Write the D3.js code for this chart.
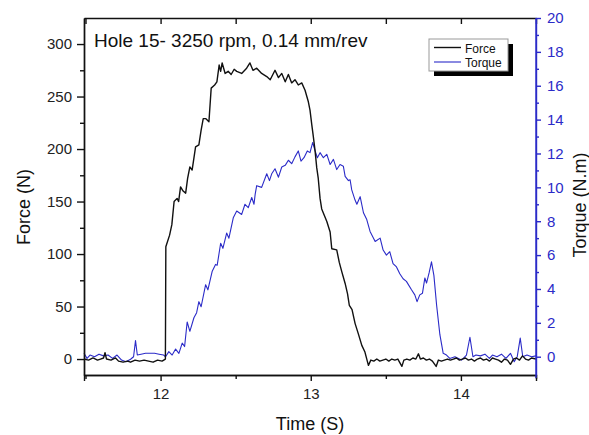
<!DOCTYPE html>
<html>
<head>
<meta charset="utf-8">
<script src="https://cdn.jsdelivr.net/npm/d3@7"></script>
<style>
    body { margin: 0; background: #fff; }
    text { font-family: "Liberation Sans", Arial, sans-serif; }
    .axis path, .axis line { stroke: #111; stroke-width: 1.4; }
    .axis text { font-size: 15px; fill: #222; }
    .t-axis path, .t-axis line { stroke: #2b2bc8; }
    .t-axis text { fill: #2b2bc8; }
</style>
</head>
<body>
<div id="chart"></div>
<script>
// data
let forceTime = [11.49, 11.52, 11.55, 11.58, 11.60, 11.62, 11.63, 11.64, 11.67, 11.70, 11.72, 11.75, 11.78, 11.80, 11.83, 11.86, 11.89, 11.92, 11.95, 11.98, 12.01, 12.032,
    12.035, 12.06, 12.075, 12.09, 12.11, 12.12, 12.133, 12.15, 12.167, 12.18, 12.195, 12.21, 12.233, 12.255, 12.27, 12.284, 12.30, 12.322, 12.337, 12.36, 12.375, 12.39, 12.40, 12.41,
    12.43, 12.45, 12.47, 12.49, 12.507, 12.54, 12.573, 12.595, 12.615, 12.64, 12.673, 12.707, 12.73, 12.762, 12.785, 12.807, 12.83, 12.851, 12.873, 12.895, 12.917, 12.94,
    12.962, 12.984, 12.995, 13.007, 13.017, 13.029, 13.04, 13.05, 13.062, 13.073, 13.09, 13.107, 13.129, 13.14, 13.173, 13.19, 13.207, 13.229, 13.245, 13.257, 13.275, 13.295,
    13.317, 13.34, 13.36, 13.384, 13.40, 13.42, 13.44, 13.46, 13.48, 13.50, 13.52, 13.54, 13.56, 13.58, 13.607, 13.62, 13.64, 13.66, 13.68, 13.70, 13.717, 13.73, 13.75, 13.77,
    13.79, 13.81, 13.835, 13.85, 13.87, 13.89, 13.91, 13.93, 13.95, 13.97, 13.99, 14.01, 14.03, 14.05, 14.07, 14.09, 14.11, 14.13, 14.15, 14.17, 14.19, 14.21, 14.23, 14.25,
    14.27, 14.29, 14.31, 14.33, 14.35, 14.37, 14.39, 14.41, 14.43, 14.45, 14.47, 14.50];
let forceVal = [0, -1, 1, -1, 0, 1, 6, 0, -1, 1, -2, -3, -2, -3, -1, -2, -1, -2, -3, -1, -2, 0,
    107, 118, 128, 150, 153, 150, 164, 160, 158, 172, 183, 180, 202, 204, 218, 229, 229, 226, 258, 261, 264, 280, 274, 282,
    272, 274, 271, 276, 274, 272, 277, 282, 275, 277, 272, 269, 266, 275, 268, 272, 264, 271, 263, 266, 261, 263,
    256, 245, 237, 223, 212, 198, 182, 172, 153, 143, 137, 131, 121, 105, 104, 92, 83, 72, 62, 51, 47, 34,
    24, 13, 7, -6, -1, -2, 0, -2, -1, 0, -2, 0, -1, 0, -7, -1, 0, -1, 1, 0, 5, 0, 1, -1,
    0, -2, -7, -1, -2, -1, 0, -1, 0, 1, -1, 0, 1, -1, 0, -2, 0, 1, -1, 0, -2, 1, 0, -1,
    -3, 0, -1, -5, 0, 1, -1, 3, 0, -1, 1, 0];

let torqueTime = [11.49, 11.51, 11.53, 11.56, 11.59, 11.62, 11.65, 11.68, 11.71, 11.74, 11.77, 11.80, 11.82, 11.833, 11.845, 11.87, 11.90, 11.93, 11.96, 11.99, 12.02,
    12.033, 12.055, 12.077, 12.10, 12.122, 12.144, 12.16, 12.177, 12.195, 12.222, 12.24, 12.255, 12.27, 12.30, 12.315, 12.344, 12.366, 12.377, 12.40, 12.415, 12.44, 12.455,
    12.484, 12.507, 12.54, 12.562, 12.584, 12.607, 12.622, 12.63, 12.64, 12.673, 12.707, 12.725, 12.74, 12.762, 12.785, 12.807, 12.83, 12.851, 12.873, 12.895, 12.917,
    12.935, 12.955, 12.977, 12.995, 13.013, 13.029, 13.044, 13.062, 13.084, 13.107, 13.129, 13.151, 13.173, 13.195, 13.217, 13.229, 13.251, 13.262, 13.273, 13.295,
    13.307, 13.329, 13.351, 13.373, 13.395, 13.429, 13.462, 13.482, 13.504, 13.526, 13.548, 13.571, 13.593, 13.615, 13.637, 13.671, 13.693, 13.708, 13.726, 13.744,
    13.76, 13.771, 13.788, 13.804, 13.82, 13.838, 13.86, 13.882, 13.904, 13.926, 13.96, 14.004, 14.037, 14.06, 14.08, 14.10, 14.13, 14.16, 14.19, 14.21, 14.24, 14.27,
    14.30, 14.33, 14.355, 14.375, 14.395, 14.412, 14.44, 14.47, 14.50];
let torqueVal = [0.2, -0.1, 0.1, 0, 0.15, 0.05, 0.1, -0.1, 0.1, -0.2, -0.3, -0.15, 0, 0.95, 0.1, 0.15, 0.2, 0.2, 0.2, 0.15, 0.1,
    0, 0.3, 0.1, 0.45, 0.2, 0.8, 0.6, 2.05, 1.5, 2.3, 2.6, 3.25, 2.95, 4.25, 3.95, 5.05, 5.45, 5.4, 6.7, 6.4, 7.3, 7.0,
    8.2, 8.6, 8.4, 9.0, 8.8, 9.4, 9.0, 9.6, 10.1, 10.0, 10.8, 10.4, 10.8, 11.1, 10.6, 11.2, 11.3, 11.6, 11.4, 11.8, 12.15,
    11.55, 11.75, 12.15, 12.05, 12.65, 12.15, 11.75, 12.05, 11.75, 11.95, 11.35, 11.65, 11.05, 11.35, 11.25, 10.65, 10.4, 10.45, 9.85, 9.25,
    9.0, 9.45, 8.5, 8.1, 7.4, 6.8, 7.0, 6.3, 6.0, 6.2, 5.5, 5.3, 4.9, 4.6, 4.45, 3.95, 3.65, 3.25, 3.65, 3.75,
    4.65, 4.35, 4.95, 5.6, 4.8, 3.05, 1.3, 0.2, 0.1, -0.1, 0, -0.2, 0.1, 1.15, 0, 0.1, 0.05, 0.15, -0.1, 0.1, 0, 0.15,
    -0.1, 0.2, -0.3, 0, 1.1, 0, 0.1, 0, 0.05];

let timeTicks = [12, 13, 14];
let timeMinor = [11.5, 12.5, 13.5, 14.5];
let forceTicks = [0, 50, 100, 150, 200, 250, 300];
let forceMinor = [25, 75, 125, 175, 225, 275];
let torqueTicks = [0, 2, 4, 6, 8, 10, 12, 14, 16, 18, 20];
let torqueMinor = [1, 3, 5, 7, 9, 11, 13, 15, 17, 19];

let seriesNames = ["Force", "Torque"];
let titleText = "Hole 15- 3250 rpm, 0.14 mm/rev";

class DualChart {
    constructor(parentElement) {
        this.parentElement = parentElement;
        this.initVis();
    }

    initVis() {
        let vis = this;
        vis.margin = {top: 18, right: 53, bottom: 60, left: 84};
        vis.width = 589 - vis.margin.left - vis.margin.right;
        vis.height = 435 - vis.margin.top - vis.margin.bottom;
        vis.blue = "#2b2bc8";

        vis.root = d3.select("#" + vis.parentElement).append("svg")
            .attr("width", 589)
            .attr("height", 435);
        vis.svg = vis.root.append("g")
            .attr("transform", "translate(" + vis.margin.left + "," + vis.margin.top + ")");

        // scales
        vis.x = d3.scaleLinear().domain([11.49, 14.5]).range([0, vis.width]);
        vis.yF = d3.scaleLinear().domain([-15.2, 324.8]).range([vis.height, 0]);
        vis.yT = d3.scaleLinear().domain([-1.08, 20]).range([vis.height, 0]);

        vis.forceData = forceTime.map((t, i) => ({t: t, v: forceVal[i]}));
        vis.torqueData = torqueTime.map((t, i) => ({t: t, v: torqueVal[i]}));

        vis.updateVis();
    }

    updateVis() {
        let vis = this;

        // lines (torque below force)
        vis.svg.append("path")
            .datum(vis.torqueData)
            .attr("fill", "none")
            .attr("stroke", vis.blue)
            .attr("stroke-width", 1.1)
            .attr("stroke-linejoin", "round")
            .attr("d", d3.line().x(d => vis.x(d.t)).y(d => vis.yT(d.v)));

        vis.svg.append("path")
            .datum(vis.forceData)
            .attr("fill", "none")
            .attr("stroke", "#111")
            .attr("stroke-width", 1.4)
            .attr("stroke-linejoin", "round")
            .attr("d", d3.line().x(d => vis.x(d.t)).y(d => vis.yF(d.v)));

        // bottom axis
        vis.svg.append("g")
            .attr("class", "axis")
            .attr("transform", "translate(0," + vis.height + ")")
            .call(d3.axisBottom(vis.x).tickValues(timeTicks).tickSize(6).tickPadding(7).tickFormat(d3.format("d")));
        vis.svg.append("g")
            .attr("class", "axis")
            .attr("transform", "translate(0," + vis.height + ")")
            .call(d3.axisBottom(vis.x).tickValues(timeMinor).tickSize(4).tickFormat("").tickSizeOuter(0));

        // top axis, ticks inward
        vis.svg.append("g")
            .attr("class", "axis")
            .call(d3.axisTop(vis.x).tickValues(timeTicks.concat(timeMinor)).tickSize(-6).tickFormat("").tickSizeOuter(0));

        // left axis
        vis.svg.append("g")
            .attr("class", "axis")
            .call(d3.axisLeft(vis.yF).tickValues(forceTicks).tickSize(7).tickPadding(5).tickSizeOuter(0));
        vis.svg.append("g")
            .attr("class", "axis")
            .call(d3.axisLeft(vis.yF).tickValues(forceMinor).tickSize(4).tickFormat("").tickSizeOuter(0));

        // right axis
        let rAxis = vis.svg.append("g")
            .attr("class", "axis t-axis")
            .attr("transform", "translate(" + vis.width + ",0)")
            .call(d3.axisRight(vis.yT).tickValues(torqueTicks).tickSize(5).tickPadding(6).tickSizeOuter(0));
        rAxis.select(".domain").attr("d", "M0,0V" + (vis.height + 3));
        vis.svg.append("g")
            .attr("class", "axis t-axis")
            .attr("transform", "translate(" + vis.width + ",0)")
            .call(d3.axisRight(vis.yT).tickValues(torqueMinor).tickSize(3).tickFormat("").tickSizeOuter(0));

        // axis titles
        vis.root.append("text")
            .attr("x", 310)
            .attr("y", 430)
            .attr("text-anchor", "middle")
            .style("font-size", "18px")
            .attr("fill", "#111")
            .text("Time (S)");

        vis.root.append("text")
            .attr("transform", "translate(30,207) rotate(-90)")
            .attr("text-anchor", "middle")
            .style("font-size", "18px")
            .attr("fill", "#111")
            .text("Force (N)");

        vis.root.append("text")
            .attr("transform", "translate(586,205) rotate(-90)")
            .attr("text-anchor", "middle")
            .style("font-size", "18px")
            .attr("fill", "#111")
            .text("Torque (N.m)");

        // title inside the plot
        vis.root.append("text")
            .attr("x", 94)
            .attr("y", 47)
            .style("font-size", "19px")
            .attr("fill", "#111")
            .text(titleText);

        // legend
        let lg = vis.root.append("g").attr("transform", "translate(429,39)");
        lg.append("rect").attr("x", 5).attr("y", 5).attr("width", 79).attr("height", 32).attr("fill", "#000");
        lg.append("rect").attr("width", 79).attr("height", 32).attr("fill", "#fff").attr("stroke", "#999");
        let colors = ["#111", vis.blue];
        seriesNames.forEach((name, i) => {
            lg.append("line")
                .attr("x1", 5).attr("x2", 32)
                .attr("y1", 8.5 + i * 14.5).attr("y2", 8.5 + i * 14.5)
                .attr("stroke", colors[i])
                .attr("stroke-width", i === 0 ? 1.4 : 1.1);
            lg.append("text")
                .attr("x", 36)
                .attr("y", 13.5 + i * 14.5)
                .style("font-size", "12px")
                .attr("fill", "#111")
                .text(name);
        });
    }
}

new DualChart("chart");
</script>
</body>
</html>
